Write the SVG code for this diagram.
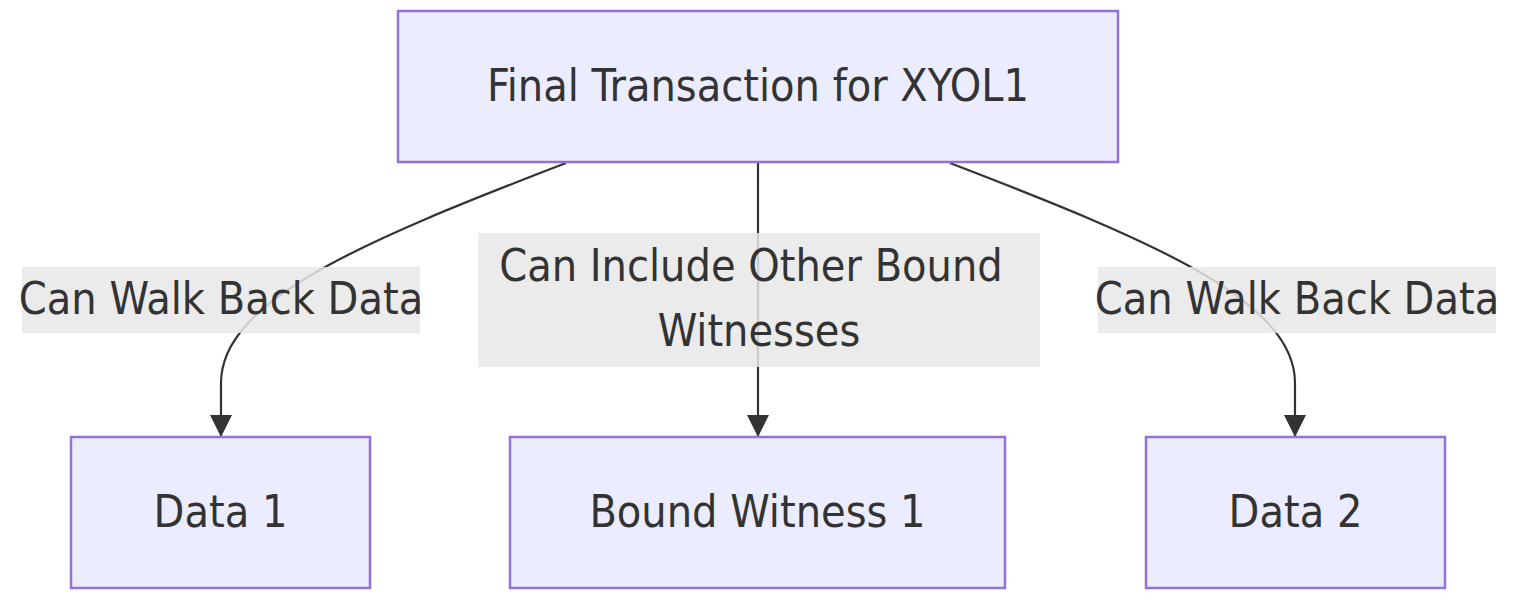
<svg xmlns="http://www.w3.org/2000/svg" width="1517" height="603" viewBox="0 0 1517 603">
<style>
.node rect{fill:#ECECFF;stroke:#9370DB;stroke-width:2.5}
text{font-family:"DejaVu Sans Condensed","DejaVu Sans","Liberation Sans",sans-serif;font-size:44.5px;fill:#333;text-anchor:middle;font-stretch:condensed}
.edge{fill:none;stroke:#333;stroke-width:2.2}
.lbl rect{fill:#e8e8e8;fill-opacity:0.85}
</style>
<defs>
<marker id="arrow" viewBox="0 0 22 22" refX="22" refY="11" markerWidth="22" markerHeight="22" markerUnits="userSpaceOnUse" orient="auto">
<path d="M0,0 L22,11 L0,22 Z" fill="#333"/>
</marker>
</defs>
<rect width="1517" height="603" fill="#fff"/>
<g id="connectors">
<path class="edge" d="M566,163 C366,240 221,300 221,383 L221,437" marker-end="url(#arrow)"/>
<path class="edge" d="M758,163 L758,437" marker-end="url(#arrow)"/>
<path class="edge" d="M950,163 C1150,240 1295,300 1295,383 L1295,437" marker-end="url(#arrow)"/>
</g>
<g id="label-left" class="lbl"><rect x="22" y="267" width="398" height="66"/><text x="221" y="314">Can Walk Back Data</text></g>
<g id="label-mid" class="lbl"><rect x="478" y="233" width="562" height="134"/><text x="751" y="281">Can Include Other Bound</text><text x="759" y="346">Witnesses</text></g>
<g id="label-right" class="lbl"><rect x="1098" y="267" width="398" height="66"/><text x="1297" y="314">Can Walk Back Data</text></g>
<g id="node-final" class="node"><rect x="398" y="11" width="720" height="151"/><text x="758" y="101">Final Transaction for XYOL1</text></g>
<g id="node-data1" class="node"><rect x="71" y="437" width="299" height="151"/><text x="220.5" y="527">Data 1</text></g>
<g id="node-bw1" class="node"><rect x="510" y="437" width="495" height="151"/><text x="757.5" y="527">Bound Witness 1</text></g>
<g id="node-data2" class="node"><rect x="1146" y="437" width="299" height="151"/><text x="1295.5" y="527">Data 2</text></g>
</svg>
